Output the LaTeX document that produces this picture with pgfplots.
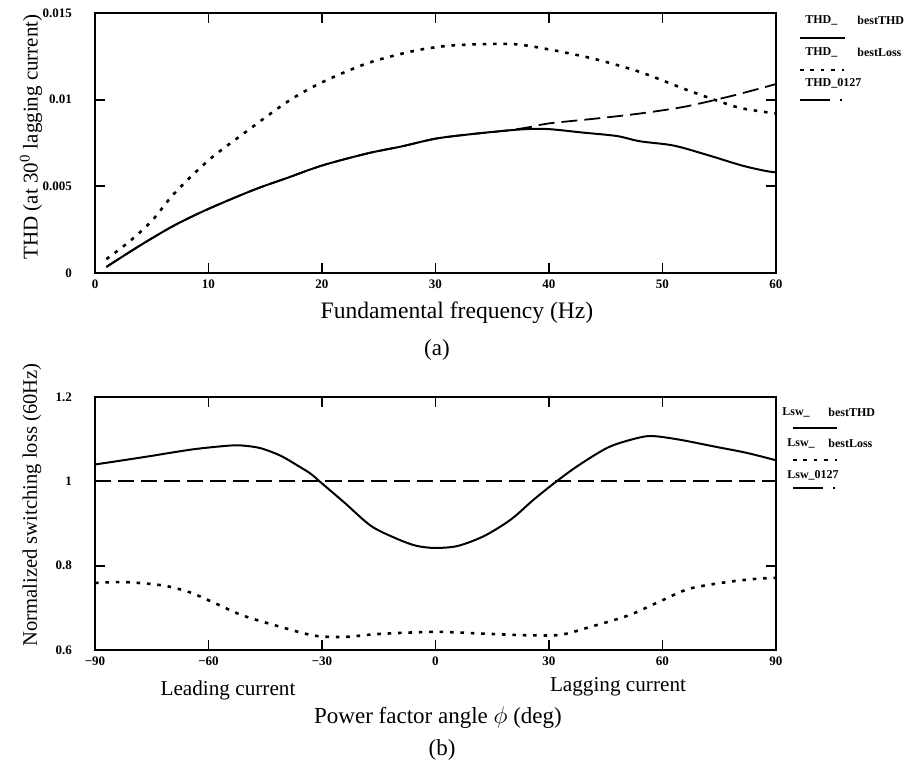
\documentclass[border=0pt]{standalone}
\usepackage{pgfplots}
\pgfplotsset{compat=1.18}
\usepackage{fontspec}
\setmainfont{Liberation Serif}
\pgfplotsset{
  common/.style={
    scale only axis,
    width=340.5pt,
    axis line style={line width=1pt},
    tick align=inside,
    tick pos=both,
    major tick length=5pt,
    every tick/.style={black,line width=0.9pt},
    ticklabel style={font=\fontsize{6.5}{7}\selectfont\bfseries},
    /pgf/number format/assume math mode=true,
    scaled y ticks=false,
    clip=true,
  },
  sol/.style={black,line width=1pt,smooth,no marks},
  dot/.style={black,line width=1.3pt,smooth,no marks,dash pattern=on 1.8pt off 3.4pt},
  dsh/.style={black,line width=0.9pt,smooth,no marks,dash pattern=on 8pt off 3.5pt},
}
\begin{document}
\begin{tikzpicture}
\path[use as bounding box] (0,0) rectangle (453pt,-381.5pt);
% ---------- (a) ----------
\begin{axis}[common,
  at={(47.5pt,-136.5pt)}, anchor=south west,
  height=130pt,
  xmin=0, xmax=60, ymin=0, ymax=0.015,
  xtick={0,10,20,30,40,50,60},
  ytick={0,0.005,0.01,0.015},
  yticklabel style={/pgf/number format/fixed,/pgf/number format/precision=3,xshift=-8pt},
]
\addplot[sol] coordinates {
(1,0.00035) (4,0.0016) (7,0.00275) (10,0.0037) (14,0.0048) (17,0.0055)
(20,0.0062) (24,0.0069) (27,0.0073) (30,0.00775) (33,0.0080) (36,0.0082)
(38,0.0083) (40,0.0083) (43,0.0081) (46,0.0079) (48,0.0076) (51,0.00735)
(54,0.0068) (57,0.0062) (59,0.0059) (60,0.0058)};
\addplot[dot] coordinates {
(1,0.0008) (3,0.0018) (5,0.0030) (7,0.0046) (10,0.0065) (13,0.0080)
(17,0.0099) (20,0.0110) (24,0.0121) (28,0.0128) (31,0.0131) (34,0.0132)
(37,0.0132) (40,0.0129) (44,0.01235) (48,0.0116) (52,0.0106) (55,0.0099)
(57,0.0095) (60,0.0092)};
\addplot[dsh] coordinates {
(1,0.00035) (4,0.0016) (7,0.00275) (10,0.0037) (14,0.0048) (17,0.0055)
(20,0.0062) (24,0.0069) (27,0.0073) (30,0.00775) (33,0.0080) (36,0.0082)
(38,0.00838) (40,0.00863) (44,0.0089) (48,0.0092) (52,0.0096) (56,0.0102)
(58.6,0.01065) (60,0.0109)};
\end{axis}
% ---------- (b) ----------
\begin{axis}[common,
  at={(47.5pt,-325pt)}, anchor=south west,
  height=126.5pt,
  xmin=-90, xmax=90, ymin=0.6, ymax=1.2,
  xtick={-90,-60,-30,0,30,60,90},
  xticklabels={−90,−60,−30,0,30,60,90},
  ytick={0.6,0.8,1,1.2},
  yticklabel style={xshift=-8pt},
]
\addplot[sol] coordinates {
(-90,1.040) (-84,1.048) (-76,1.059) (-64,1.076) (-54,1.085) (-50,1.084)
(-46,1.078) (-41,1.061) (-36,1.035) (-33,1.018) (-30,0.995) (-24,0.949)
(-17,0.894) (-10,0.863) (-5,0.847) (0,0.842) (6,0.847) (13,0.871)
(20,0.910) (26,0.957) (32,1.000) (38,1.039) (46,1.082) (54,1.104)
(58,1.107) (65,1.098) (74,1.082) (82,1.068) (90,1.050)};
\addplot[dot] coordinates {
(-90,0.759) (-82,0.761) (-72,0.753) (-65,0.737) (-59,0.714) (-51,0.682)
(-41,0.655) (-32,0.634) (-24,0.631) (-15,0.638) (0,0.643) (12,0.639)
(24,0.635) (33,0.636) (41,0.655) (51,0.682) (59,0.714) (67,0.745)
(77,0.761) (85,0.769) (90,0.771)};
\addplot[dsh,smooth=false] coordinates {(-90,1.0) (90,1.0)};
\end{axis}
% ---------- labels ----------
\node[rotate=90,font=\fontsize{10.5}{12}\selectfont] at (15.5pt,-68.5pt) {THD (at 30\textsuperscript{0} lagging current)};
\node[font=\fontsize{11.8}{13}\selectfont] at (228.5pt,-156.5pt) {Fundamental frequency (Hz)};
\node[font=\fontsize{11.5}{13}\selectfont] at (218.5pt,-175pt) {(a)};
\node[rotate=90,font=\fontsize{10.3}{12}\selectfont] at (16pt,-252.5pt) {Normalized switching loss (60Hz)};
\node[font=\fontsize{10.6}{12}\selectfont] at (114pt,-345pt) {Leading current};
\node[font=\fontsize{10.6}{12}\selectfont] at (309pt,-343.5pt) {Lagging current};
\node[font=\fontsize{11.5}{13}\selectfont] at (219pt,-359pt) {Power factor angle $\phi$ (deg)};
\node[font=\fontsize{11.5}{13}\selectfont] at (221pt,-375pt) {(b)};
% ---------- legends ----------
\begin{scope}[every node/.style={font=\fontsize{6}{7}\selectfont\bfseries,anchor=west,inner sep=0pt}]
\node at (402.5pt,-10pt) {THD\_};
\node at (428.5pt,-10pt) {bestTHD};
\draw[black,line width=1pt] (400pt,-19pt) -- (422.5pt,-19pt);
\node at (402.5pt,-26pt) {THD\_};
\node at (428.5pt,-26pt) {bestLoss};
\draw[black,line width=1.3pt,dash pattern=on 1.8pt off 3.4pt] (400pt,-35pt) -- (422pt,-35pt);
\node at (402.5pt,-41.5pt) {THD\_0127};
\draw[black,line width=0.9pt,dash pattern=on 15pt off 5pt on 1pt off 5pt] (400pt,-50pt) -- (422pt,-50pt);
\node at (391pt,-206pt) {Lsw\_};
\node at (414pt,-206pt) {bestTHD};
\draw[black,line width=1pt] (396.5pt,-214pt) -- (418.5pt,-214pt);
\node at (393.5pt,-221.5pt) {Lsw\_};
\node at (414pt,-221.5pt) {bestLoss};
\draw[black,line width=1.3pt,dash pattern=on 1.8pt off 3.4pt] (396.5pt,-230pt) -- (418.5pt,-230pt);
\node at (393.5pt,-237.5pt) {Lsw\_0127};
\draw[black,line width=0.9pt,dash pattern=on 15pt off 5pt on 1pt off 5pt] (396.5pt,-244pt) -- (418.5pt,-244pt);
\end{scope}
\end{tikzpicture}
\end{document}
